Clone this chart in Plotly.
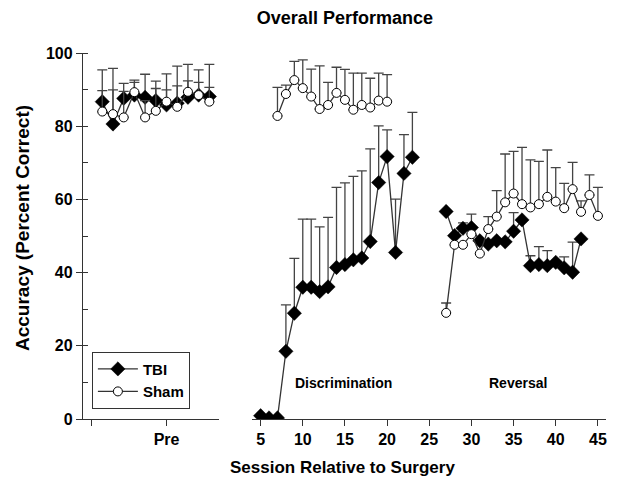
import plotly.graph_objects as go

# ---------------- data ----------------
pre_sessions = list(range(1, 12))
tbi_pre = [86.7, 80.6, 87.6, 88.5, 87.9, 87.0, 85.8, 86.3, 87.9, 88.5, 88.1]
tbi_pre_err = [8.7, 15.2, 4.1, 4.1, 6.3, 5.3, 8.5, 10.1, 4.5, 6.9, 8.8]
sham_pre = [84.0, 83.3, 82.4, 89.3, 82.4, 84.2, 86.7, 85.3, 89.4, 88.5, 86.7]
sham_pre_err = [5.7, 6.6, 7.1, 2.7, 4.6, 6.1, 3.2, 5.7, 7.5, 3.5, 3.9]

tbi_disc_sessions = list(range(5, 24))
tbi_disc = [0.9, 0.3, 0.3, 18.5, 28.9, 36.0, 36.0, 34.8, 36.1, 41.4, 42.2, 43.5,
            44.0, 48.5, 64.6, 71.7, 45.5, 67.1, 71.5]
tbi_disc_err = [0, 0, 0, 12.7, 15.0, 18.6, 18.6, 17.7, 19.0, 21.9, 22.3, 22.8,
                23.8, 25.3, 15.5, 7.3, 14.6, 10.6, 12.3]

sham_disc_sessions = list(range(7, 21))
sham_disc = [82.8, 88.8, 92.6, 90.4, 88.1, 84.7, 85.8, 89.1, 87.2, 84.5, 85.8,
             85.1, 87.0, 86.7]
sham_disc_err = [7.8, 2.4, 5.1, 7.7, 7.5, 11.8, 6.2, 7.0, 8.3, 10.0, 8.7, 8.0,
                 7.5, 7.4]

tbi_rev_sessions = list(range(27, 44))
tbi_rev = [56.7, 50.1, 52.1, 52.3, 48.7, 47.8, 48.7, 48.4, 51.3, 54.4, 41.9,
           42.2, 41.9, 42.8, 41.3, 40.1, 49.2]
tbi_rev_err = [0, 0, 1.5, 3.7, 0, 0, 0, 0, 5.1, 0, 2.7, 4.9, 4.1, 0, 3.0, 8.2, 0]

sham_rev_sessions = list(range(27, 46))
sham_rev = [29.0, 47.6, 47.6, 50.5, 45.2, 51.9, 55.3, 59.2, 61.6, 58.7, 57.8,
            58.7, 60.7, 59.4, 57.6, 62.8, 56.6, 61.2, 55.5]
sham_rev_err = [2.7, 0, 0, 0, 0, 3.4, 7.1, 13.2, 11.5, 15.5, 13.0, 11.7, 12.8,
                9.3, 6.8, 7.3, 3.0, 5.5, 7.8]

pre_tickvals = [0, 7]
pre_ticktext = ["", "Pre"]
post_tickvals = [5, 10, 15, 20, 25, 30, 35, 40, 45]
y_tickvals = [0, 20, 40, 60, 80, 100]

# ---------------- styles ----------------
FONT = "Liberation Sans, Arial, sans-serif"
LINE_C = "#333333"
ERR_C = "#444444"
tbi_marker = dict(symbol="diamond", size=11, color="black", line=dict(color="black", width=0.5))
sham_marker = dict(symbol="circle", size=9, color="white", line=dict(color="black", width=1))


def err(arr):
    return dict(type="data", symmetric=False, array=arr, arrayminus=[0] * len(arr),
                color=ERR_C, thickness=1.3, width=5)


fig = go.Figure()

fig.add_trace(go.Scatter(x=pre_sessions, y=tbi_pre, error_y=err(tbi_pre_err),
                         mode="lines+markers", marker=tbi_marker,
                         line=dict(color=LINE_C, width=1.3), name="<b>TBI</b>",
                         xaxis="x", yaxis="y", showlegend=True))
fig.add_trace(go.Scatter(x=tbi_disc_sessions + [None] + tbi_rev_sessions,
                         y=tbi_disc + [None] + tbi_rev,
                         error_y=err(tbi_disc_err + [0] + tbi_rev_err),
                         mode="lines+markers", marker=tbi_marker,
                         line=dict(color=LINE_C, width=1.3), name="TBI",
                         xaxis="x2", yaxis="y", showlegend=False, connectgaps=False))
fig.add_trace(go.Scatter(x=pre_sessions, y=sham_pre, error_y=err(sham_pre_err),
                         mode="lines+markers", marker=sham_marker,
                         line=dict(color=LINE_C, width=1.3), name="<b>Sham</b>",
                         xaxis="x", yaxis="y", showlegend=True))
fig.add_trace(go.Scatter(x=sham_disc_sessions + [None] + sham_rev_sessions,
                         y=sham_disc + [None] + sham_rev,
                         error_y=err(sham_disc_err + [0] + sham_rev_err),
                         mode="lines+markers", marker=sham_marker,
                         line=dict(color=LINE_C, width=1.3), name="Sham",
                         xaxis="x2", yaxis="y", showlegend=False, connectgaps=False))

axis_common = dict(showgrid=False, zeroline=False, showline=True, linecolor="#333333",
                   linewidth=1.3, ticks="outside", tickcolor="#333333", tickwidth=1.3,
                   ticklen=6, automargin=False,
                   tickfont=dict(family=FONT, size=16, color="black", weight="bold"))

fig.update_layout(
    width=617, height=485,
    margin=dict(l=83, r=11, t=53, b=66),
    paper_bgcolor="white", plot_bgcolor="white",
    title=dict(text="<b>Overall Performance</b>", x=0.559, xanchor="center",
               y=1 - 18 / 485, yanchor="middle",
               font=dict(family=FONT, size=18, color="black")),
    xaxis=dict(domain=[0, 0.26], range=[-0.8, 11.9], tickvals=pre_tickvals,
               ticktext=pre_ticktext, anchor="y", **axis_common),
    xaxis2=dict(domain=[0.323, 1], range=[3.97, 45.96], tickvals=post_tickvals,
                anchor="y", **axis_common),
    yaxis=dict(range=[0, 100], tickvals=y_tickvals, anchor="x",
               minor=dict(ticks="inside", dtick=10, ticklen=5, tickcolor="#333333",
                          tickwidth=1.3),
               **axis_common),
    legend=dict(x=0.017, y=0.184, xanchor="left", yanchor="top",
                bordercolor="#333333", borderwidth=1, bgcolor="white",
                font=dict(family=FONT, size=15, color="black"),
                itemwidth=40, tracegroupgap=0, traceorder="normal"),
    annotations=[
        dict(text="<b>Discrimination</b>", x=14.8, y=9.8, xref="x2", yref="y",
             showarrow=False, font=dict(family=FONT, size=14, color="black")),
        dict(text="<b>Reversal</b>", x=35.5, y=9.8, xref="x2", yref="y",
             showarrow=False, font=dict(family=FONT, size=14, color="black")),
        dict(text="<b>Session Relative to Surgery</b>", x=(342 - 83) / 523,
             y=-(467 - 419) / 366, xref="paper", yref="paper", xanchor="center",
             yanchor="middle", showarrow=False,
             font=dict(family=FONT, size=17, color="black")),
        dict(text="<b>Accuracy (Percent Correct)</b>", x=-(83 - 22) / 523,
             y=(419 - 228) / 366, xref="paper", yref="paper", xanchor="center",
             yanchor="middle", textangle=-90, showarrow=False,
             font=dict(family=FONT, size=19, color="black")),
    ],
)

fig.write_html("out.html", config={"displayModeBar": False},
               post_script="document.body.style.margin='0';")
